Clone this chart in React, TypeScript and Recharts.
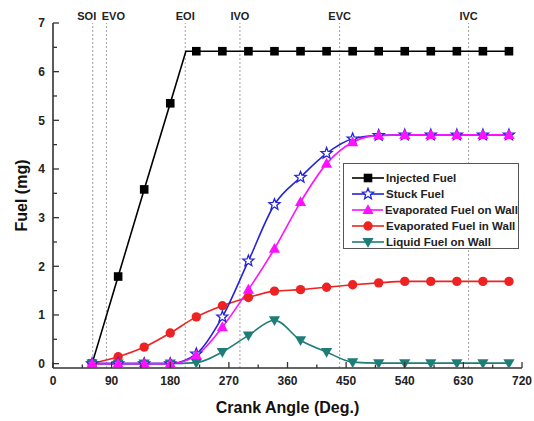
import React from 'react'
import { LineChart, Line, XAxis, YAxis, ReferenceLine, Legend } from 'recharts'

// crank angles where the simulation markers sit
const angles = [60, 100, 140, 180, 220, 260, 300, 340, 380, 420, 460, 500, 540, 580, 620, 660, 700]

const injected = [0, 1.79, 3.58, 5.35, 6.42, 6.42, 6.42, 6.42, 6.42, 6.42, 6.42, 6.42, 6.42, 6.42, 6.42, 6.42, 6.42]
const stuck = [0, 0, 0, 0, 0.2, 0.96, 2.11, 3.27, 3.83, 4.32, 4.62, 4.69, 4.7, 4.7, 4.7, 4.7, 4.7]
const evapOnWall = [0, 0, 0, 0, 0.17, 0.75, 1.52, 2.36, 3.32, 4.11, 4.55, 4.69, 4.7, 4.7, 4.7, 4.7, 4.7]
const evapInWall = [0, 0.14, 0.34, 0.63, 0.96, 1.19, 1.36, 1.49, 1.52, 1.57, 1.62, 1.66, 1.69, 1.69, 1.69, 1.69, 1.69]
const liquid = [0, 0, 0, 0, 0.02, 0.24, 0.58, 0.89, 0.48, 0.24, 0.03, 0.01, 0.01, 0.01, 0.01, 0.01, 0.01]

// end of injection: the injected line bends here (no marker)
const injectedKnee = { angle: 204, value: 6.42 }

const eventNames = ['SOI', 'EVO', 'EOI', 'IVO', 'EVC', 'IVC']
const eventAngles = [61, 82, 203, 287, 440, 638]

const xMajor = [0, 90, 180, 270, 360, 450, 540, 630, 720]
const xMinor = [45, 135, 225, 315, 405, 495, 585, 675]
const yMajor = [0, 1, 2, 3, 4, 5, 6, 7]
const yMinor = [0.5, 1.5, 2.5, 3.5, 4.5, 5.5, 6.5]

const toPoints = (vals: number[]) => angles.map((a, i) => ({ angle: a, value: vals[i] }))

const injectedData = [...toPoints(injected), injectedKnee].sort((a, b) => a.angle - b.angle)

const FONT = '"Liberation Sans", Arial, sans-serif'
const AXIS = '#333'

const Square = ({ cx, cy, color }: any) => (
  <rect x={cx - 4.3} y={cy - 4.3} width={8.6} height={8.6} fill={color} />
)
const Star = ({ cx, cy, color }: any) => {
  const pts: string[] = []
  for (let i = 0; i < 10; i++) {
    const r = i % 2 === 0 ? 5.8 : 2.5
    const a = -Math.PI / 2 + (i * Math.PI) / 5
    pts.push(`${cx + r * Math.cos(a)},${cy + r * Math.sin(a)}`)
  }
  return <polygon points={pts.join(' ')} fill="#fff" stroke={color} strokeWidth={1.3} />
}
const TriUp = ({ cx, cy, color }: any) => (
  <polygon points={`${cx},${cy - 5.8} ${cx + 5.6},${cy + 4} ${cx - 5.6},${cy + 4}`} fill={color} />
)
const Circle = ({ cx, cy, color }: any) => <circle cx={cx} cy={cy} r={4.7} fill={color} />
const TriDown = ({ cx, cy, color }: any) => (
  <polygon points={`${cx},${cy + 5.8} ${cx + 5.6},${cy - 4} ${cx - 5.6},${cy - 4}`} fill={color} />
)

const legendItems = [
  { name: 'Injected Fuel', color: '#000000', Marker: Square },
  { name: 'Stuck Fuel', color: '#2424d6', Marker: Star },
  { name: 'Evaporated Fuel on Wall', color: '#ff10ff', Marker: TriUp },
  { name: 'Evaporated Fuel in Wall', color: '#ee2222', Marker: Circle },
  { name: 'Liquid Fuel on Wall', color: '#1f7d78', Marker: TriDown },
]

const dotWith = (Marker: any, color: string, skipAngle?: number) => (props: any) => {
  const { cx, cy, index, payload } = props
  if (skipAngle !== undefined && payload.angle === skipAngle) return <g key={`d${index}`} />
  return <Marker key={`d${index}`} cx={cx} cy={cy} color={color} />
}

const renderXTick = (props: any) => {
  const { x, y, payload } = props
  const major = xMajor.includes(payload.value)
  const axisY = y - 8
  return (
    <g>
      <line x1={x} x2={x} y1={axisY} y2={axisY - (major ? 6 : 3.5)} stroke={AXIS} strokeWidth={1.3} />
      {major && (
        <text x={x} y={y} dy="0.71em" textAnchor="middle" fontSize={12} fontWeight="bold" fill="#222" fontFamily={FONT}>
          {payload.value}
        </text>
      )}
    </g>
  )
}

const renderYTick = (props: any) => {
  const { x, y, payload } = props
  const major = yMajor.includes(payload.value)
  const axisX = x + 8
  return (
    <g>
      <line x1={axisX} x2={axisX + (major ? 6 : 4)} y1={y} y2={y} stroke={AXIS} strokeWidth={1.3} />
      {major && (
        <text x={x} y={y} dy="0.355em" textAnchor="end" fontSize={12} fontWeight="bold" fill="#222" fontFamily={FONT}>
          {payload.value}
        </text>
      )}
    </g>
  )
}

const renderLegend = () => (
  <div
    style={{
      width: 176,
      height: 86,
      boxSizing: 'border-box',
      border: '1px solid #555',
      background: '#fff',
      paddingTop: 6,
      paddingLeft: 8,
      fontFamily: FONT,
      fontWeight: 'bold',
      fontSize: 11.5,
      color: '#222',
    }}
  >
    {legendItems.map(({ name, color, Marker }) => (
      <div key={name} style={{ display: 'flex', alignItems: 'center', height: 16 }}>
        <svg width={32} height={14} style={{ marginRight: 2 }}>
          <line x1={0} x2={32} y1={7} y2={7} stroke={color} strokeWidth={1.6} />
          <Marker cx={16} cy={7} color={color} />
        </svg>
        <span style={{ whiteSpace: 'nowrap' }}>{name}</span>
      </div>
    ))}
  </div>
)

const labelNudge: Record<string, number> = { SOI: -6, EVO: 7 }

export default function App() {
  const [inj, stk, on, inW, liq] = legendItems
  return (
    <div style={{ position: 'absolute', left: 0, top: 0, fontFamily: FONT, background: '#fff' }}>
      <LineChart width={534} height={421} margin={{ top: 23, right: 12, bottom: 0, left: 0 }}>
        <XAxis
          dataKey="angle"
          type="number"
          domain={[0, 720]}
          ticks={[...xMajor, ...xMinor].sort((a, b) => a - b)}
          interval={0}
          tick={renderXTick}
          tickLine={false}
          tickSize={0}
          tickMargin={8}
          height={53}
          axisLine={{ stroke: AXIS, strokeWidth: 1.6 }}
          allowDataOverflow
          label={{ value: 'Crank Angle (Deg.)', position: 'center', dy: 13, fontSize: 16, fontWeight: 'bold', fill: '#111' }}
        />
        <XAxis
          xAxisId="top"
          orientation="top"
          type="number"
          domain={[0, 720]}
          tick={false}
          tickLine={false}
          height={0}
          axisLine={{ stroke: AXIS, strokeWidth: 1.6 }}
        />
        <YAxis
          type="number"
          domain={[-0.09, 7]}
          ticks={[...yMajor, ...yMinor].sort((a, b) => a - b)}
          interval={0}
          tick={renderYTick}
          tickLine={false}
          tickSize={0}
          tickMargin={8}
          width={53}
          axisLine={{ stroke: AXIS, strokeWidth: 1.6 }}
          allowDataOverflow
          label={{ value: 'Fuel (mg)', angle: -90, position: 'center', dx: -5, fontSize: 16, fontWeight: 'bold', fill: '#111' }}
        />
        <YAxis
          yAxisId="right"
          orientation="right"
          type="number"
          domain={[-0.09, 7]}
          tick={false}
          tickLine={false}
          width={0}
          axisLine={{ stroke: AXIS, strokeWidth: 1.6 }}
        />
        {eventAngles.map((a, i) => (
          <ReferenceLine
            key={eventNames[i]}
            x={a}
            stroke="#a0a0a0"
            strokeDasharray="2 2"
            label={{
              value: eventNames[i],
              position: 'top',
              offset: 3,
              dx: labelNudge[eventNames[i]] ?? 0,
              fontSize: 11,
              fontWeight: 'bold',
              fill: '#222',
            }}
          />
        ))}
        <Line
          data={injectedData}
          dataKey="value"
          type="linear"
          stroke={inj.color}
          strokeWidth={1.6}
          dot={dotWith(Square, inj.color, injectedKnee.angle)}
          isAnimationActive={false}
        />
        <Line
          data={toPoints(evapInWall)}
          dataKey="value"
          type="monotone"
          stroke={inW.color}
          strokeWidth={1.6}
          dot={dotWith(Circle, inW.color)}
          isAnimationActive={false}
        />
        <Line
          data={toPoints(liquid)}
          dataKey="value"
          type="monotone"
          stroke={liq.color}
          strokeWidth={1.6}
          dot={dotWith(TriDown, liq.color)}
          isAnimationActive={false}
        />
        <Line
          data={toPoints(stuck)}
          dataKey="value"
          type="monotone"
          stroke={stk.color}
          strokeWidth={1.6}
          dot={dotWith(Star, stk.color)}
          isAnimationActive={false}
        />
        <Line
          data={toPoints(evapOnWall)}
          dataKey="value"
          type="monotone"
          stroke={on.color}
          strokeWidth={1.6}
          dot={dotWith(TriUp, on.color)}
          isAnimationActive={false}
        />
        <Legend
          layout="vertical"
          align="center"
          verticalAlign="middle"
          content={renderLegend}
          wrapperStyle={{ position: 'absolute', left: 343, top: 163, width: 176, height: 86 }}
        />
      </LineChart>
    </div>
  )
}
